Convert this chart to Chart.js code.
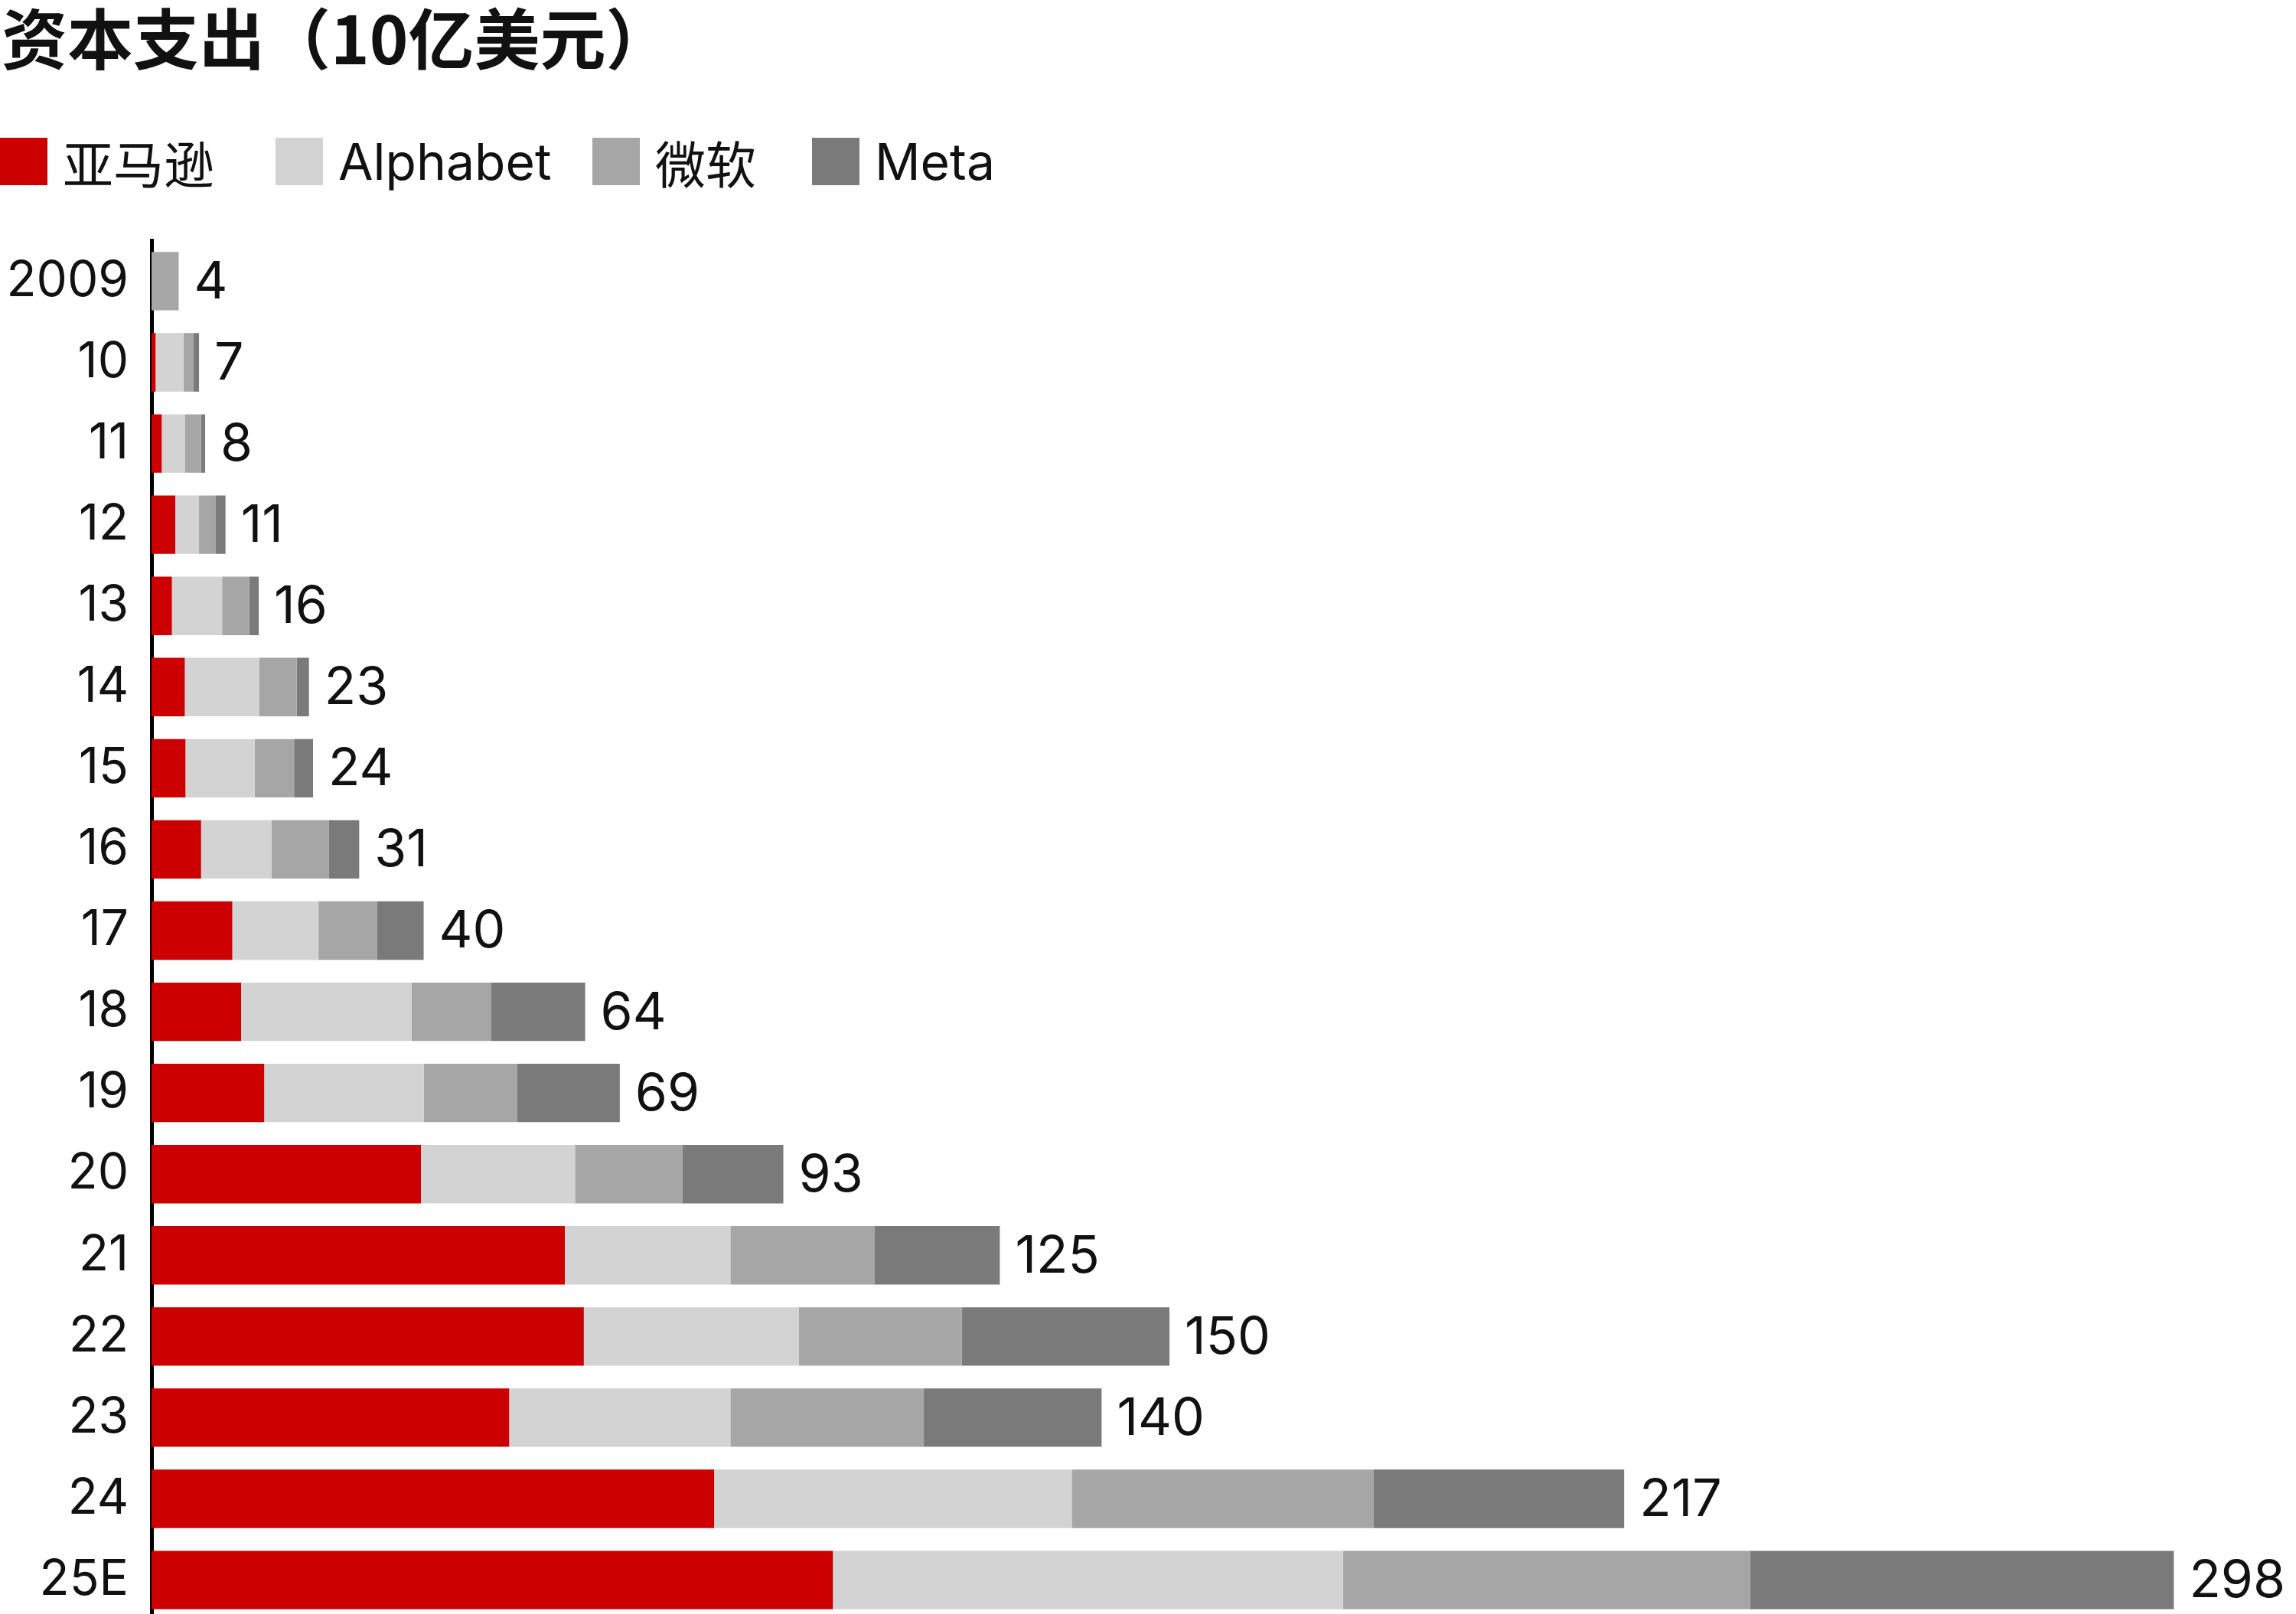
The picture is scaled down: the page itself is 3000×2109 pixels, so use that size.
<!DOCTYPE html>
<html><head><meta charset="utf-8">
<script src="https://cdn.jsdelivr.net/npm/chart.js@4"></script>
<style>
body{margin:0;width:3000px;height:2109px;overflow:hidden;background:#fff;font-family:Inter,"Noto Sans CJK SC",sans-serif;position:relative}
#title{position:absolute;left:2px;top:-16px;font:700 86px "Noto Sans CJK SC",sans-serif;color:#111}
.lg{position:absolute;top:180px;height:62px;display:flex;align-items:center;font-size:66px;color:#111}
.sw{width:62px;height:62px;margin-right:20px}
#wrap{position:absolute;left:0;top:254px;width:3000px;height:1924px}
</style></head><body>
<div id="title">资本支出（10亿美元）</div>
<div class="lg" style="left:0"><div class="sw" style="background:#cc0000"></div>亚马逊</div>
<div class="lg" style="left:360px"><div class="sw" style="background:#d3d3d3"></div>Alphabet</div>
<div class="lg" style="left:774px"><div class="sw" style="background:#a6a6a6"></div>微软</div>
<div class="lg" style="left:1061px"><div class="sw" style="background:#7a7a7a"></div>Meta</div>
<div id="wrap"><canvas id="c"></canvas></div>
<script>
// capex by company, $bn
const years = ['2009','10','11','12','13','14','15','16','17','18','19','20','21','22','23','24','25E'];
const amazon    = [0, 0.6, 1.5, 3.5, 3.0, 4.9, 5.0, 7.3, 11.9, 13.2, 16.6, 39.7, 60.9, 63.7, 52.7, 82.9, 100.4];
const alphabet  = [0, 4.1, 3.4, 3.5, 7.4, 11.0, 10.2, 10.4, 12.7, 25.1, 23.5, 22.7, 24.4, 31.7, 32.6, 52.7, 75.2];
const microsoft = [4, 1.5, 2.4, 2.4, 4.0, 5.5, 5.8, 8.4, 8.6, 11.7, 13.8, 15.8, 21.2, 24.0, 28.5, 44.5, 60.0];
const meta      = [0, 0.8, 0.6, 1.5, 1.4, 1.8, 2.8, 4.5, 6.9, 13.9, 15.1, 14.9, 18.5, 30.6, 26.2, 36.9, 62.4];

const totalLabels = {
  id: 'totalLabels',
  afterDatasetsDraw(chart) {
    const ctx = chart.ctx;
    const last = chart.getDatasetMeta(chart.data.datasets.length - 1);
    ctx.save();
    ctx.font = '68px Inter';
    ctx.fillStyle = '#111';
    ctx.textBaseline = 'middle';
    years.forEach((y, i) => {
      const total = amazon[i] + alphabet[i] + microsoft[i] + meta[i];
      const bar = last.data[i];
      ctx.fillText(String(Math.round(total)), bar.x + 20, bar.y + 2);
    });
    ctx.restore();
  }
};

const mk = (label, data, color) => ({ label, data, backgroundColor: color, borderWidth: 0, categoryPercentage: 1, barPercentage: 0.72 });

new Chart(document.getElementById('c'), {
  type: 'bar',
  data: {
    labels: years,
    datasets: [
      mk('亚马逊', amazon, '#cc0000'),
      mk('Alphabet', alphabet, '#d3d3d3'),
      mk('微软', microsoft, '#a6a6a6'),
      mk('Meta', meta, '#7a7a7a'),
    ],
  },
  options: {
    indexAxis: 'y',
    responsive: true,
    maintainAspectRatio: false,
    animation: false,
    layout: { padding: 0 },
    plugins: { legend: { display: false }, tooltip: { enabled: false } },
    scales: {
      x: { stacked: true, min: 0, max: 316, display: false },
      y: {
        stacked: true,
        grid: { display: false },
        border: { color: '#000', width: 5 },
        ticks: { color: '#111', font: { size: 64, family: 'Inter' }, padding: 22 },
        afterFit(s) { s.width = 198; },
      },
    },
  },
  plugins: [totalLabels],
});
</script>
</body></html>
